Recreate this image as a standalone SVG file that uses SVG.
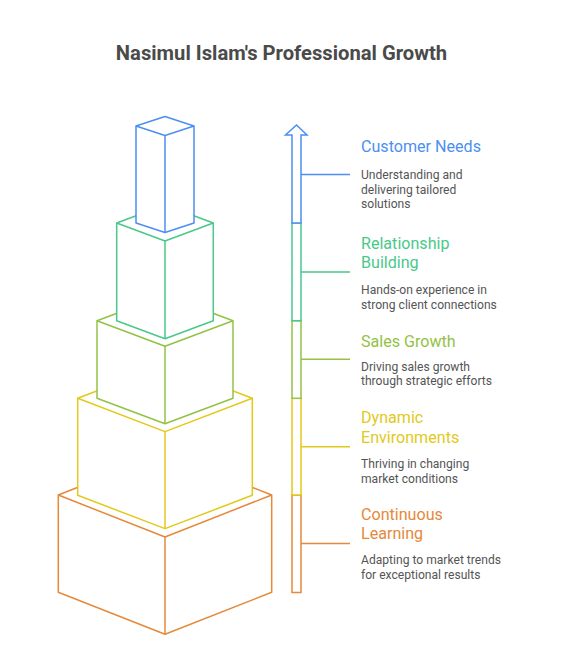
<svg xmlns="http://www.w3.org/2000/svg" width="563" height="645" viewBox="0 0 563 645">
<style>
.box{fill:#fff;stroke-width:1.5;stroke-linejoin:round}
.ln{fill:none;stroke-width:1.5;stroke-linejoin:round}
.seg{fill:#fff;stroke-width:1.5}
.h{font-family:Roboto,"Liberation Sans",sans-serif;font-size:16.1px}
.d{font-family:Roboto,"Liberation Sans",sans-serif;font-size:12.1px;fill:#555}
.t{font-family:Roboto,"Liberation Sans",sans-serif;font-size:20.2px;font-weight:bold;fill:#4a4a4a}
.o{stroke:#e5893a}.y{stroke:#e2c91b}.s{stroke:#93c245}.g{stroke:#48c98a}.b{stroke:#4c8ff0}
</style>
<rect width="563" height="645" fill="#fff"/>
<text class="t" x="281.5" y="59.5" text-anchor="middle">Nasimul Islam's Professional Growth</text>

<g id="box-continuous-learning">
<polygon class="box o" points="58.3,592.3 58.3,495 165,453 271.7,495 271.7,592.3 165,634.3"/>
<polyline class="ln o" points="58.3,495 165,537 271.7,495"/>
<line class="ln o" x1="165" y1="537" x2="165" y2="634.3"/>
</g>
<g id="box-dynamic-environments">
<polygon class="box y" points="77.7,495.3 77.7,398.3 165,365 252.3,398.3 252.3,495.3 165,528.6"/>
<polyline class="ln y" points="77.7,398.3 165,431.6 252.3,398.3"/>
<line class="ln y" x1="165" y1="431.6" x2="165" y2="528.6"/>
</g>
<g id="box-sales-growth">
<polygon class="box s" points="97,398.3 97,320.7 165,295.2 233,320.7 233,398.3 165,423.8"/>
<polyline class="ln s" points="97,320.7 165,346.2 233,320.7"/>
<line class="ln s" x1="165" y1="346.2" x2="165" y2="423.8"/>
</g>
<g id="box-relationship-building">
<polygon class="box g" points="116.7,320.7 116.7,223 165,205 213.3,223 213.3,320.7 165,338.7"/>
<polyline class="ln g" points="116.7,223 165,241 213.3,223"/>
<line class="ln g" x1="165" y1="241" x2="165" y2="338.7"/>
</g>
<g id="box-customer-needs">
<polygon class="box b" points="136,223 136,126 165,116.5 194,126 194,223 165,232.5"/>
<polyline class="ln b" points="136,126 165,135.5 194,126"/>
<line class="ln b" x1="165" y1="135.5" x2="165" y2="232.5"/>
</g>

<g id="arrow">
<rect class="seg o" x="292" y="495" width="9" height="97.5"/>
<rect class="seg y" x="292" y="398.3" width="9" height="96.7"/>
<rect class="seg s" x="292" y="320.7" width="9" height="77.6"/>
<rect class="seg g" x="292" y="223" width="9" height="97.7"/>
<path class="seg b" d="M292,223 V135 H285.5 L296.5,125 L307,135 H301 V223 Z"/>
</g>

<g id="connectors">
<line class="ln b" x1="301" y1="174.5" x2="350" y2="174.5"/>
<line class="ln g" x1="301" y1="272" x2="350" y2="272"/>
<line class="ln s" x1="301" y1="359.3" x2="350" y2="359.3"/>
<line class="ln y" x1="301" y1="446.7" x2="350" y2="446.7"/>
<line class="ln o" x1="301" y1="543.5" x2="350" y2="543.5"/>
</g>

<g id="label-customer-needs">
<text class="h" x="361" y="151.8" fill="#4c8ff0">Customer Needs</text>
<text class="d" x="361" y="179">Understanding and</text>
<text class="d" x="361" y="193.5">delivering tailored</text>
<text class="d" x="361" y="208">solutions</text>
</g>
<g id="label-relationship-building">
<text class="h" x="361" y="249.1" fill="#48c98a">Relationship</text>
<text class="h" x="361" y="268.3" fill="#48c98a">Building</text>
<text class="d" x="361" y="294">Hands-on experience in</text>
<text class="d" x="361" y="308.5">strong client connections</text>
</g>
<g id="label-sales-growth">
<text class="h" x="361" y="346.8" fill="#93c245">Sales Growth</text>
<text class="d" x="361" y="370.7">Driving sales growth</text>
<text class="d" x="361" y="385.2">through strategic efforts</text>
</g>
<g id="label-dynamic-environments">
<text class="h" x="361" y="423.3" fill="#e2c91b">Dynamic</text>
<text class="h" x="361" y="442.5" fill="#e2c91b">Environments</text>
<text class="d" x="361" y="468.4">Thriving in changing</text>
<text class="d" x="361" y="482.9">market conditions</text>
</g>
<g id="label-continuous-learning">
<text class="h" x="361" y="520.1" fill="#e5893a">Continuous</text>
<text class="h" x="361" y="539.3" fill="#e5893a">Learning</text>
<text class="d" x="361" y="564.2">Adapting to market trends</text>
<text class="d" x="361" y="578.7">for exceptional results</text>
</g>
</svg>
